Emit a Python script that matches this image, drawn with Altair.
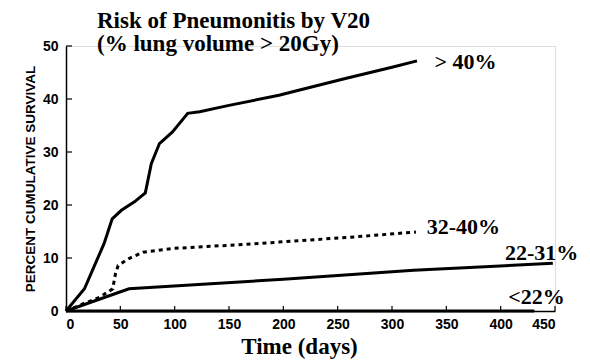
import altair as alt
import pandas as pd

# Cumulative incidence of pneumonitis (%) by V20 group, over time (days)
gt40_days = [0, 17, 25, 35, 42.5, 51, 63, 73, 78.5, 86, 98, 112, 123, 150, 196, 215, 258, 300, 323]
gt40_vals = [0, 4.2, 8.0, 12.7, 17.4, 19.0, 20.6, 22.3, 27.8, 31.6, 33.8, 37.3, 37.6, 38.8, 40.7, 41.7, 43.9, 46.0, 47.2]

mid_days = [0, 15, 31, 43, 45.5, 48, 58, 71, 98, 150, 196, 260, 322]
mid_vals = [0, 1.3, 2.6, 4.2, 7.0, 8.6, 9.9, 11.1, 11.8, 12.4, 13.0, 13.9, 14.9]

low_days = [0, 58, 200, 320, 448]
low_vals = [0, 4.2, 6.0, 7.7, 9.0]

min_days = [0, 431]
min_vals = [0, 0]

# Group labels placed beside the curve ends
label_text = ["> 40%", "32-40%", "22-31%", "<22%"]
label_day = [339, 332, 404, 407]
label_val = [47.0, 15.8, 10.9, 2.6]

x_ticks = [0, 50, 100, 150, 200, 250, 300, 350, 400, 450]
y_ticks = [0, 10, 20, 30, 40, 50]

W, H = 489, 265

def series(days, vals, name):
    return pd.DataFrame({"day": days, "pct": vals, "group": name, "order": range(len(days))})

solid = pd.concat([
    series(gt40_days, gt40_vals, ">40%"),
    series(low_days, low_vals, "22-31%"),
    series(min_days, min_vals, "<22%"),
])
dotted = series(mid_days, mid_vals, "32-40%")
labels = pd.DataFrame({"text": label_text, "day": label_day, "pct": label_val})

xscale = alt.Scale(domain=[0, 450], nice=False, zero=False)
yscale = alt.Scale(domain=[0, 50], nice=False)

tick_font = "Liberation Sans Narrow, Liberation Sans, Arial, sans-serif"
serif = "Liberation Serif, Times New Roman, serif"

x_enc = alt.X(
    "day:Q", scale=xscale,
    axis=alt.Axis(
        values=x_ticks, ticks=False, grid=False, domainColor="black", domainWidth=1.5,
        labelFont=tick_font, labelFontSize=14, labelFontWeight="bold", labelColor="black",
        labelPadding=6, title="Time (days)", titleFont=serif, titleFontSize=23,
        titleFontWeight="bold", titleColor="black", titlePadding=4, titleX=233, titleAlign="center",
    ),
)
y_enc = alt.Y(
    "pct:Q", scale=yscale,
    axis=alt.Axis(
        values=y_ticks, ticks=False, grid=False, domainColor="black", domainWidth=1.5,
        labelFont=tick_font, labelFontSize=14, labelFontWeight="bold", labelColor="black",
        labelPadding=8, title="PERCENT CUMULATIVE SURVIVAL", titleFont=tick_font,
        titleFontSize=13.5, titleFontWeight="bold", titleColor="black", titlePadding=5,
    ),
)

solid_lines = alt.Chart(solid).mark_line(color="black", strokeWidth=3, strokeCap="butt").encode(
    x=x_enc, y=y_enc, detail="group:N", order="order:Q"
)
dotted_line = alt.Chart(dotted).mark_line(
    color="black", strokeWidth=3, strokeDash=[4, 4], strokeCap="butt"
).encode(x=alt.X("day:Q", scale=xscale), y=alt.Y("pct:Q", scale=yscale), order="order:Q")

label_marks = alt.Chart(labels).mark_text(
    align="left", baseline="middle", font=serif, fontSize=22, fontWeight="bold", color="black"
).encode(x=alt.X("day:Q", scale=xscale), y=alt.Y("pct:Q", scale=yscale), text="text:N")

# Inward tick marks on both axes
xt = alt.Chart(pd.DataFrame({"day": x_ticks})).mark_rule(color="black", strokeWidth=1.2).encode(
    x=alt.X("day:Q", scale=xscale), y=alt.value(H), y2=alt.value(H - 5)
)
yt = alt.Chart(pd.DataFrame({"pct": y_ticks})).mark_rule(color="black", strokeWidth=1.2).encode(
    y=alt.Y("pct:Q", scale=yscale), x=alt.value(0), x2=alt.value(6)
)

chart = (
    alt.layer(solid_lines, dotted_line, xt, yt, label_marks)
    .properties(
        width=W, height=H,
        title=alt.TitleParams(
            text=["Risk of Pneumonitis by V20", "(% lung volume > 20Gy)"],
            font=serif, fontSize=23, fontWeight="bold", color="black",
            anchor="start", frame="group", dx=31, offset=0, lineHeight=23, dy=17,
        ),
        autosize=alt.AutoSizeParams(type="none"),
        padding={"left": 66, "top": 46, "right": 35, "bottom": 52},
    )
    .configure_view(stroke=None)
    .configure(background="white")
)

chart.save("out.html", embed_options={"renderer": "svg", "actions": False})
